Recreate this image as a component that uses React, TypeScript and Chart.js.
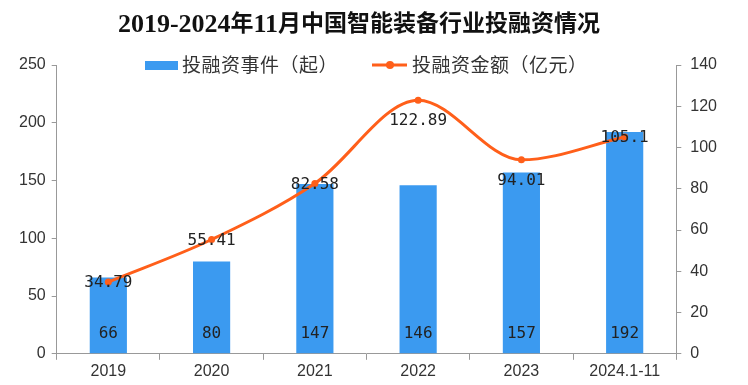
import React, { useEffect, useRef } from "react";
import { Chart, registerables } from "chart.js";

Chart.register(...registerables);

const TITLE = "2019-2024年11月中国智能装备行业投融资情况";
const categories = ["2019", "2020", "2021", "2022", "2023", "2024.1-11"];
const eventCounts = [66, 80, 147, 146, 157, 192];
const amounts = [34.79, 55.41, 82.58, 122.89, 94.01, 105.1];
const amountLabelPlace = ["center", "center", "center", "below", "below", "center"];
const eventLabel = "投融资事件（起）";
const amountLabel = "投融资金额（亿元）";

const BLUE = "#3B9AF0";
const ORANGE = "#FF5F1A";
const TICK_FONT = "'Liberation Sans', 'Noto Sans CJK SC', sans-serif";
const LABEL_FONT = "'DejaVu Sans Mono', monospace";
const TITLE_ASCII_FONT = "bold 26px 'Liberation Serif', serif";
const TITLE_CJK_FONT = "bold 23px 'Noto Sans CJK SC', sans-serif";

function splitRuns(s: string) {
  const runs: { text: string; ascii: boolean }[] = [];
  for (const ch of s) {
    const ascii = ch.charCodeAt(0) < 128;
    const last = runs[runs.length - 1];
    if (last && last.ascii === ascii) last.text += ch;
    else runs.push({ text: ch, ascii });
  }
  return runs;
}

const overlayPlugin = {
  id: "overlay",
  afterDraw(chart: any) {
    const ctx = chart.ctx;
    ctx.save();
    // title in mixed fonts
    ctx.fillStyle = "#111";
    ctx.textBaseline = "alphabetic";
    ctx.textAlign = "left";
    const runs = splitRuns(TITLE);
    let total = 0;
    runs.forEach((r) => {
      ctx.font = r.ascii ? TITLE_ASCII_FONT : TITLE_CJK_FONT;
      total += ctx.measureText(r.text).width;
    });
    let tx = 359 - total / 2;
    runs.forEach((r) => {
      ctx.font = r.ascii ? TITLE_ASCII_FONT : TITLE_CJK_FONT;
      ctx.fillText(r.text, tx, r.ascii ? 32 : 31);
      tx += ctx.measureText(r.text).width;
    });

    // legend
    ctx.font = "19px 'Noto Sans CJK SC', sans-serif";
    (ctx as any).letterSpacing = "0.5px";
    ctx.textBaseline = "middle";
    const ly = 65;
    let x = 145;
    ctx.fillStyle = chart.data.datasets[0].backgroundColor;
    ctx.fillRect(x, ly - 4, 33, 9);
    x += 37;
    ctx.fillStyle = "#333";
    ctx.fillText(chart.data.datasets[0].label, x, ly);
    x += ctx.measureText(chart.data.datasets[0].label).width + 34;
    ctx.strokeStyle = chart.data.datasets[1].borderColor;
    ctx.lineWidth = 3;
    ctx.beginPath();
    ctx.moveTo(x, ly);
    ctx.lineTo(x + 35, ly);
    ctx.stroke();
    ctx.fillStyle = chart.data.datasets[1].borderColor;
    ctx.beginPath();
    ctx.arc(x + 18, ly, 4, 0, Math.PI * 2);
    ctx.fill();
    x += 40;
    ctx.fillStyle = "#333";
    ctx.fillText(chart.data.datasets[1].label, x, ly);
    (ctx as any).letterSpacing = "0px";

    // data labels
    ctx.font = "16px " + LABEL_FONT;
    ctx.textAlign = "center";
    ctx.fillStyle = "#222";
    const barMeta = chart.getDatasetMeta(0);
    const yBase = chart.scales.y.getPixelForValue(0);
    barMeta.data.forEach((el: any, i: number) => {
      ctx.fillText(String(eventCounts[i]), el.x, yBase - 20);
    });
    const lineMeta = chart.getDatasetMeta(1);
    lineMeta.data.forEach((el: any, i: number) => {
      const place = amountLabelPlace[i];
      const dy = place === "below" ? 21 : place === "above" ? -16 : 1;
      ctx.fillText(String(amounts[i]), el.x, el.y + dy);
    });
    ctx.restore();
  },
};

export default function App() {
  const ref = useRef<HTMLCanvasElement>(null);
  useEffect(() => {
    if (!ref.current) return;
    const chart = new Chart(ref.current, {
      type: "bar",
      data: {
        labels: categories,
        datasets: [
          {
            type: "bar",
            label: eventLabel,
            data: eventCounts,
            backgroundColor: BLUE,
            yAxisID: "y",
            barPercentage: 0.36,
            categoryPercentage: 1,
            order: 2,
          },
          {
            type: "line",
            label: amountLabel,
            data: amounts,
            borderColor: ORANGE,
            backgroundColor: ORANGE,
            borderWidth: 3,
            pointRadius: 3.5,
            pointBackgroundColor: ORANGE,
            pointBorderWidth: 0,
            tension: 0.45,
            cubicInterpolationMode: "monotone" as any,
            yAxisID: "y1",
            order: 1,
          } as any,
        ],
      },
      options: {
        animation: false,
        responsive: false,
        maintainAspectRatio: false,
        layout: { padding: { top: 65, left: 13, right: 22, bottom: 2 } },
        plugins: {
          legend: { display: false },
          title: { display: false },
          tooltip: { enabled: false },
        },
        scales: {
          x: {
            grid: { display: true, drawOnChartArea: false, tickLength: 6, color: "#999" },
            border: { color: "#999", width: 1 },
            ticks: { color: "#333", font: { size: 16, family: TICK_FONT }, padding: 2, maxRotation: 0 },
          },
          y: {
            position: "left",
            min: 0,
            max: 250,
            ticks: { stepSize: 50, color: "#333", font: { size: 16, family: TICK_FONT }, padding: 6 },
            grid: { drawOnChartArea: false, tickLength: 5, color: "#999" },
            border: { color: "#999", width: 1 },
          },
          y1: {
            position: "right",
            min: 0,
            max: 140,
            ticks: { stepSize: 20, color: "#333", font: { size: 16, family: TICK_FONT }, padding: 9 },
            grid: { drawOnChartArea: false, tickLength: 5, color: "#999" },
            border: { color: "#999", width: 1 },
          },
        },
      },
      plugins: [overlayPlugin],
    });
    return () => chart.destroy();
  }, []);
  return (
    <div style={{ position: "absolute", left: 0, top: 0, width: 748, height: 385, background: "#fff" }}>
      <canvas ref={ref} width={748} height={385} style={{ width: 748, height: 385, display: "block" }} />
    </div>
  );
}
